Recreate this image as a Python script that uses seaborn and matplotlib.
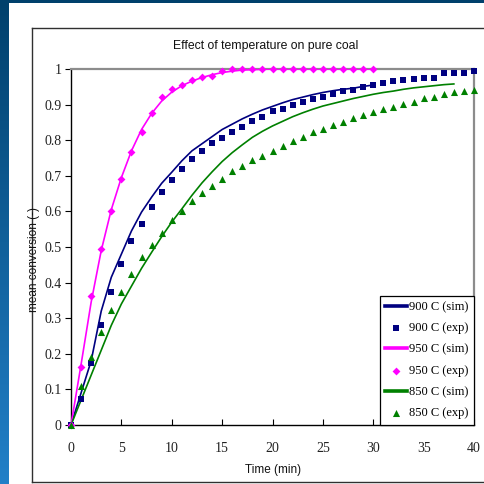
import numpy as np
import pandas as pd
import matplotlib
matplotlib.use("Agg")
import matplotlib.pyplot as plt
import matplotlib.patches as mpatches
from matplotlib.lines import Line2D
import seaborn as sns

# ---------------- data ----------------
t_sim_900 = list(range(0, 31))
v_sim_900 = [0, 0.09, 0.18, 0.32, 0.415, 0.48, 0.545, 0.598, 0.64, 0.679, 0.71,
             0.742, 0.77, 0.79, 0.81, 0.83, 0.845, 0.86, 0.873, 0.885, 0.895,
             0.905, 0.914, 0.921, 0.928, 0.934, 0.939, 0.943, 0.946, 0.951, 0.955]
t_exp_900 = list(range(0, 41))
v_exp_900 = [0, 0.073, 0.174, 0.28, 0.373, 0.452, 0.516, 0.566, 0.613, 0.654, 0.688,
             0.718, 0.746, 0.77, 0.791, 0.805, 0.823, 0.837, 0.854, 0.865, 0.882,
             0.888, 0.899, 0.907, 0.916, 0.921, 0.93, 0.938, 0.941, 0.95, 0.955,
             0.96, 0.966, 0.969, 0.972, 0.975, 0.975, 0.989, 0.99, 0.99, 0.994]

t_sim_950 = list(range(0, 31))
v_sim_950 = [0, 0.17, 0.345, 0.49, 0.605, 0.695, 0.77, 0.83, 0.875, 0.91, 0.935,
             0.953, 0.966, 0.976, 0.984, 0.99, 0.994, 0.997, 0.998, 0.999, 1.0,
             1.0, 1.0, 1.0, 1.0, 1.0, 1.0, 1.0, 1.0, 1.0, 1.0]
t_exp_950 = list(range(0, 31))
v_exp_950 = [0, 0.163, 0.362, 0.494, 0.60, 0.69, 0.766, 0.823, 0.877, 0.92, 0.944,
             0.955, 0.968, 0.978, 0.98, 0.995, 1.0, 1.0, 1.0, 1.0, 1.0,
             1.0, 1.0, 1.0, 1.0, 1.0, 1.0, 1.0, 1.0, 1.0, 1.0]

t_sim_850 = list(range(0, 39))
v_sim_850 = [0, 0.07, 0.14, 0.21, 0.28, 0.34, 0.39, 0.44, 0.485, 0.529, 0.57,
             0.607, 0.645, 0.68, 0.711, 0.74, 0.765, 0.787, 0.808, 0.825, 0.84,
             0.853, 0.866, 0.877, 0.887, 0.896, 0.903, 0.91, 0.917, 0.923, 0.929,
             0.934, 0.938, 0.943, 0.947, 0.95, 0.953, 0.956, 0.958]
t_exp_850 = list(range(0, 41))
v_exp_850 = [0, 0.11, 0.19, 0.26, 0.323, 0.375, 0.424, 0.471, 0.506, 0.54, 0.576,
             0.602, 0.629, 0.651, 0.671, 0.69, 0.713, 0.728, 0.744, 0.757, 0.771,
             0.785, 0.798, 0.808, 0.822, 0.831, 0.843, 0.852, 0.861, 0.871, 0.88,
             0.887, 0.894, 0.903, 0.908, 0.918, 0.922, 0.929, 0.934, 0.939, 0.94]

x_ticks = [0, 5, 10, 15, 20, 25, 30, 35, 40]
y_ticks = [0, 0.1, 0.2, 0.3, 0.4, 0.5, 0.6, 0.7, 0.8, 0.9, 1]
y_tick_labels = ["0", "0.1", "0.2", "0.3", "0.4", "0.5", "0.6", "0.7", "0.8", "0.9", "1"]

title = "Effect of temperature on pure coal"
xlabel = "Time (min)"
ylabel = "mean conversion (-)"

NAVY = "#000080"
MAGENTA = "#ff00ff"
GREEN = "#008000"

W = H = 484.0

def fx(px):
    return px / W

def fy(py):
    return 1 - py / H

fig = plt.figure(figsize=(4.84, 4.84), dpi=100)

# background gradient (blue slide)
bg = fig.add_axes([0, 0, 1, 1], zorder=-10)
grad = np.linspace(0, 1, 256)[:, None]
c_top = np.array([0x00, 0x40, 0x6c]) / 255
c_bot = np.array([0x22, 0x80, 0xc8]) / 255
img = c_top[None, None, :] * (1 - grad[:, :, None]) + c_bot[None, None, :] * grad[:, :, None]
bg.imshow(img, aspect="auto", extent=[0, 1, 0, 1], origin="upper")
bg.axis("off")

fig.patches.append(mpatches.Rectangle((fx(9), 0), 1, fy(3), transform=fig.transFigure,
                                      facecolor="white", edgecolor="none", zorder=-5))
# outer chart frame
for (x0, y0, x1, y1) in [(32, 28, 484, 28), (32, 28, 32, 482), (32, 482, 484, 482)]:
    fig.lines.append(Line2D([fx(x0), fx(x1)], [fy(y0), fy(y1)], transform=fig.transFigure,
                            color="#303030", lw=1.0, zorder=-4))

ax = fig.add_axes([fx(71), fy(425), fx(474) - fx(71), fy(69) - fy(425)])
ax.set_facecolor("none")

LW = 1.2
sns.lineplot(x=t_sim_900, y=v_sim_900, color=NAVY, lw=LW, ax=ax, label="900 C (sim)", zorder=3)
sns.scatterplot(x=t_exp_900, y=v_exp_900, color=NAVY, marker="s", s=22, linewidth=0,
                ax=ax, label="900 C (exp)", zorder=4, clip_on=False)
sns.lineplot(x=t_sim_950, y=v_sim_950, color=MAGENTA, lw=LW, ax=ax, label="950 C (sim)", zorder=3)
sns.scatterplot(x=t_exp_950, y=v_exp_950, color=MAGENTA, marker="D", s=16, linewidth=0,
                ax=ax, label="950 C (exp)", zorder=4, clip_on=False)
sns.lineplot(x=t_sim_850, y=v_sim_850, color=GREEN, lw=LW, ax=ax, label="850 C (sim)", zorder=3)
sns.scatterplot(x=t_exp_850, y=v_exp_850, color=GREEN, marker="^", s=26, linewidth=0,
                ax=ax, label="850 C (exp)", zorder=4, clip_on=False)

ax.set_xlim(0, 40)
ax.set_ylim(0, 1)
ax.set_xticks(x_ticks)
ax.set_xticklabels([str(v) for v in x_ticks])
ax.set_yticks(y_ticks)
ax.set_yticklabels(y_tick_labels)
ax.set_xlabel("")
ax.set_ylabel("")

for lab in ax.get_xticklabels() + ax.get_yticklabels():
    lab.set_fontfamily("Liberation Serif")
    lab.set_fontsize(10)
    lab.set_color("#222222")

ax.tick_params(axis="x", direction="in", length=4, width=0.8, pad=12, color="black")
ax.tick_params(axis="y", direction="out", length=4, width=0.8, pad=3, color="black")

for side in ["top", "right"]:
    ax.spines[side].set_color("#8c8c8c")
    ax.spines[side].set_linewidth(1.6)
for side in ["left", "bottom"]:
    ax.spines[side].set_color("black")
    ax.spines[side].set_linewidth(1.0)

# legend
handles, labels = ax.get_legend_handles_labels()
hmap = dict(zip(labels, handles))
order = ["900 C (sim)", "900 C (exp)", "950 C (sim)", "950 C (exp)", "850 C (sim)", "850 C (exp)"]
leg = ax.legend([hmap[k] for k in order], order, loc="lower right", bbox_to_anchor=(1.0, 0.0),
                borderaxespad=0, frameon=True, fancybox=False, framealpha=1,
                edgecolor="black", prop={"family": "Liberation Serif", "size": 9},
                handlelength=1.7, handletextpad=0.2, labelspacing=0.74, borderpad=0.45,
                scatterpoints=1)
leg.get_frame().set_linewidth(0.9)
leg.set_zorder(10)
for ln in leg.get_lines():
    ln.set_linewidth(2.6)

fig.text(fx(266), fy(46), title, ha="center", va="center",
         fontfamily="Liberation Sans", fontsize=8.8, color="#111111")
fig.text(fx(273), fy(470), xlabel, ha="center", va="center",
         fontfamily="Liberation Sans", fontsize=8.5, color="#111111")
fig.text(fx(34), fy(259), ylabel, ha="center", va="center", rotation=90,
         fontfamily="Liberation Sans", fontsize=8.5, color="#111111")

fig.savefig("out.png", dpi=100)
